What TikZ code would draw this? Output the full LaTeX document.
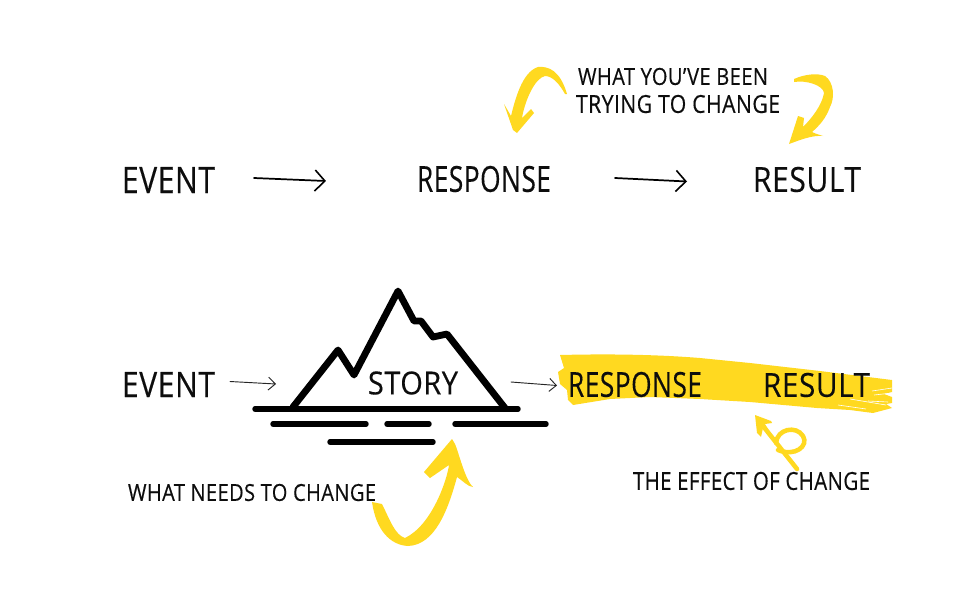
\documentclass[tikz,border=0pt]{standalone}
\usepackage{fontspec}
\usepackage{graphicx}
\setmainfont[LetterSpace=2,FakeBold=0.35]{Open Sans}
\usetikzlibrary{arrows.meta,calc}
\definecolor{brush}{HTML}{FFD920}
\newdimen\pxu \pxu=0.75pt
\newcommand{\hw}[3]{\resizebox{#1\pxu}{#2\pxu}{#3}}
\tikzset{
  x=0.75pt,y=-0.75pt,
  lab/.style={inner sep=0pt,outer sep=0pt,text=black!95},
  bigarrow/.style={draw=black,line width=1.3pt,line cap=round,-{Straight Barb[length=7.5pt,width=15.75pt,line width=1.2pt]}},
  smallarrow/.style={draw=black!85,line width=0.7pt,line cap=round,-{Straight Barb[length=5.25pt,width=9.75pt,line width=0.7pt]}},
  mount/.style={draw=black,line width=5.1pt,line join=round,line cap=round},
  water/.style={draw=black,line width=4.1pt,line cap=round},
  ybrush/.style={fill=brush,draw=none},
  streak/.style={draw=white,line width=0.45pt},
  yline/.style={draw=brush,line width=3.4pt,line cap=round}
}
\begin{document}
\begin{tikzpicture}
\useasboundingbox (0,0) rectangle (970,600);
\fill[white] (0,0) rectangle (970,600);
% brush band
\path[ybrush] (560,355) .. controls (600,354) and (650,354) .. (700,358)
  -- (750,363) -- (820,371) -- (892,380) -- (892,392) -- (884,394) -- (892,397) -- (892,403) -- (886,404) -- (892,408)
  -- (873,413) -- (850,410) -- (817,408) -- (750,402) -- (700,399) -- (650,397) -- (610,399) -- (573,405)
  -- (568,400) -- (567,390) -- (560,384) -- (558,372) -- (564,368) -- cycle;
\draw[streak] (872,391) -- (892,388);
\draw[streak] (874,395) -- (892,393);
\draw[streak] (850,399) -- (886,405);
\draw[streak] (868,401) -- (888,402);
\draw[streak] (838,405) -- (866,409);
% yellow arrows
\path[ybrush] (567,94) .. controls (560,70) and (548,66) .. (538,67)
  .. controls (522,72) and (515,100) .. (511,116) -- (504,104) -- (513,130) -- (517,133) -- (534,113) -- (531,109) -- (522,118)
  .. controls (525,100) and (535,78) .. (545,76) .. controls (553,76) and (560,85) .. (565,94) -- cycle;
\path[ybrush] (794,79) .. controls (805,74) and (818,73) .. (825,76)
  .. controls (834,82) and (835,98) .. (830,107) .. controls (826,118) and (820,125) .. (812,132)
  .. controls (816,134) and (820,135) .. (823,136) .. controls (812,135) and (800,140) .. (789,144)
  -- (798,116) -- (804,118) -- (803,127) .. controls (812,118) and (822,105) .. (824,93)
  .. controls (823,85) and (806,80) .. (794,82) -- cycle;
\path[ybrush] (372,502) .. controls (376,530) and (390,545) .. (408,546)
  .. controls (435,545) and (448,510) .. (457,477) .. controls (462,480) and (468,487) .. (473,487)
  .. controls (465,480) and (458,450) .. (455,444) -- (452,439) -- (424,472) -- (430,478) -- (449,465)
  .. controls (447,480) and (432,525) .. (405,538) .. controls (395,535) and (390,520) .. (382,504) -- cycle;
\path[ybrush] (755,415) -- (771,421) -- (772,423) -- (765,424) -- (769,431) -- (763,428) -- (761,437) -- (757,433) -- cycle;
\draw[yline] (797,469) -- (763,426);
\draw[yline] (778,450) .. controls (795,457) and (809,446) .. (803,436) .. controls (796,425) and (777,429) .. (776,443);
% top row
\node[lab] (e1) at (168.5,180) {\hw{93}{26}{EVENT}};
\node[lab] (r1) at (484,179) {\hw{134}{26}{RESPONSE}};
\node[lab] (s1) at (807,179.5) {\hw{108}{25}{RESULT}};
\node[lab] (n1) at (673,76.5) {\hw{190}{17}{WHAT YOU'VE BEEN}};
\node[lab] (n2) at (678,104) {\hw{204}{18}{TRYING TO CHANGE}};
\draw[bigarrow] ($(e1.east)+(39,-2)$) -- ($(r1.west)+(-91,2)$);
\draw[bigarrow] ($(r1.east)+(64,-1)$) -- ($(s1.west)+(-66,2)$);
% mountain
\draw[mount] (293,407) -- (338,350) -- (354,375) -- (398,291) -- (414,321) -- (421,321) -- (433,337) -- (447,334) -- (505,408);
\draw[water] (255,409) -- (518,409);
\draw[water] (273,424) -- (366,424);
\draw[water] (387,424) -- (429,424);
\draw[water] (455,424) -- (546,424);
\draw[water] (330,442) -- (433,442);
% bottom row
\node[lab] (e2) at (168.5,384.5) {\hw{93}{25}{EVENT}};
\node[lab] (st) at (413,383) {\hw{90}{23}{STORY}};
\node[lab] (r2) at (635,384.5) {\hw{134}{25}{RESPONSE}};
\node[lab] (s2) at (816.5,385) {\hw{107}{24}{RESULT}};
\node[lab] (n3) at (751.5,481) {\hw{237}{18}{THE EFFECT OF CHANGE}};
\node[lab] (n4) at (252,492.5) {\hw{248}{17}{WHAT NEEDS TO CHANGE}};
\draw[smallarrow] ($(e2.east)+(15,-3)$) -- ($(st.west)+(-92,1)$);
\draw[smallarrow] ($(st.east)+(53,-1)$) -- ($(r2.west)+(-11,1)$);
\end{tikzpicture}
\end{document}
